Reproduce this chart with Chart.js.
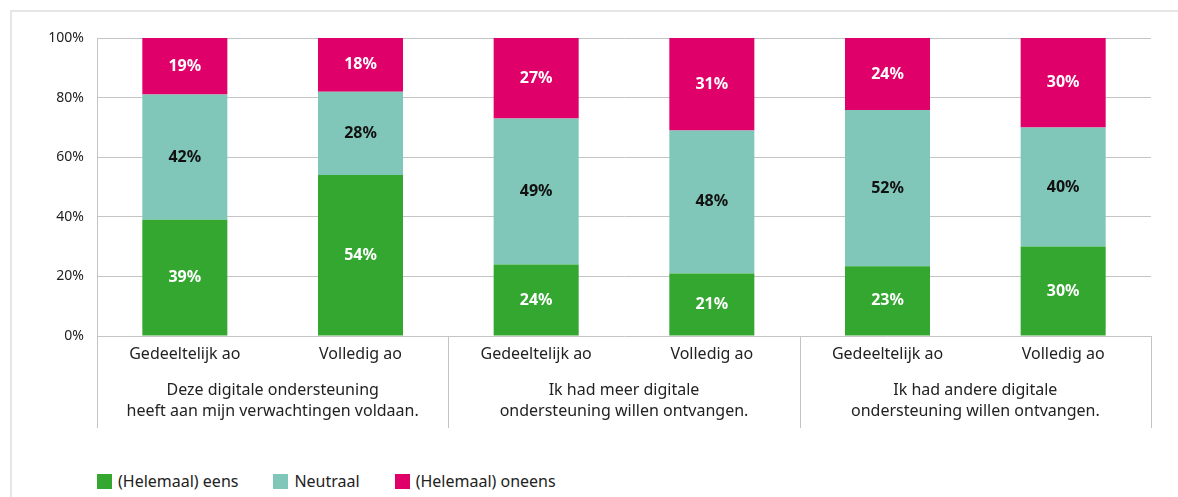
<!DOCTYPE html>
<html>
<head>
<meta charset="utf-8">
<script src="https://cdn.jsdelivr.net/npm/chart.js@4"></script>
<style>
  body { margin: 0; background: #fff; font-family: 'Noto Sans', sans-serif; }
  .frame { position: absolute; left: 10px; top: 10px; width: 1168px; height: 487px;
           border-top: 2px solid #e6e6e6; border-left: 2px solid #e6e6e6; }
  .wrap { position: absolute; left: 0; top: 0; width: 1178px; height: 440px; }
  #legend { position: absolute; left: 97px; top: 472px; display: flex; align-items: center;
            font-size: 16px; color: #222; line-height: 18px; }
  #legend .item { display: flex; align-items: center; margin-right: 35px; }
  #legend .box { width: 15px; height: 15px; margin-right: 6px; }
</style>
</head>
<body>
<div class="frame"></div>
<div class="wrap"><canvas id="chart"></canvas></div>
<div id="legend"></div>
<script>
const categories = ['Gedeeltelijk ao', 'Volledig ao', 'Gedeeltelijk ao', 'Volledig ao', 'Gedeeltelijk ao', 'Volledig ao'];
const groups = [
  ['Deze digitale ondersteuning', 'heeft aan mijn verwachtingen voldaan.'],
  ['Ik had meer digitale', 'ondersteuning willen ontvangen.'],
  ['Ik had andere digitale', 'ondersteuning willen ontvangen.']
];
const eens = [39, 54, 24, 21, 23.4, 30];
const neutraal = [42, 28, 49, 48, 52.4, 40];
const oneens = [19, 18, 27, 31, 24.2, 30];
const seriesNames = ['(Helemaal) eens', 'Neutraal', '(Helemaal) oneens'];
const yTicks = [0, 20, 40, 60, 80, 100];

const colours = ['#33a72f', '#80c7b9', '#e0006a'];
const labelColours = ['#ffffff', '#111111', '#ffffff'];
const gridColour = '#c4c4c4';
const textColour = '#222222';
const fontFamily = "'Noto Sans', sans-serif";

// percentages inside each segment
const barLabels = {
  id: 'barLabels',
  afterDatasetsDraw(chart) {
    const ctx = chart.ctx;
    ctx.save();
    ctx.font = 'bold 16px ' + fontFamily;
    ctx.textAlign = 'center';
    ctx.textBaseline = 'middle';
    chart.data.datasets.forEach((ds, i) => {
      const meta = chart.getDatasetMeta(i);
      ctx.fillStyle = labelColours[i];
      meta.data.forEach((bar, j) => {
        const y = (bar.y + bar.base) / 2;
        ctx.fillText(Math.round(ds.data[j]) + '%', bar.x, y);
      });
    });
    ctx.restore();
  }
};

// second level of the x axis: group dividers and group titles
const groupAxis = {
  id: 'groupAxis',
  afterDraw(chart) {
    const ctx = chart.ctx;
    const area = chart.chartArea;
    const x = chart.scales.x;
    const bottom = area.bottom + 92;
    const edges = [area.left];
    for (let g = 1; g < groups.length; g++) {
      edges.push((x.getPixelForValue(g * 2 - 1) + x.getPixelForValue(g * 2)) / 2);
    }
    edges.push(area.right);

    ctx.save();
    ctx.strokeStyle = gridColour;
    ctx.lineWidth = 1;
    edges.forEach(e => {
      ctx.beginPath();
      ctx.moveTo(Math.round(e) + 0.5, area.bottom);
      ctx.lineTo(Math.round(e) + 0.5, bottom);
      ctx.stroke();
    });

    ctx.fillStyle = textColour;
    ctx.font = '16px ' + fontFamily;
    ctx.textAlign = 'center';
    ctx.textBaseline = 'middle';
    groups.forEach((lines, g) => {
      const cx = (x.getPixelForValue(g * 2) + x.getPixelForValue(g * 2 + 1)) / 2;
      lines.forEach((line, k) => {
        ctx.fillText(line, cx, area.bottom + 54 + k * 21);
      });
    });
    ctx.restore();
  }
};

const datasets = [eens, neutraal, oneens].map((values, i) => ({
  label: seriesNames[i],
  data: values,
  backgroundColor: colours[i],
  borderWidth: 0,
  barPercentage: 0.484,
  categoryPercentage: 1
}));

new Chart(document.getElementById('chart'), {
  type: 'bar',
  data: { labels: categories, datasets: datasets },
  options: {
    responsive: true,
    maintainAspectRatio: false,
    animation: false,
    layout: { padding: { top: 38, right: 27, left: 0, bottom: 0 } },
    plugins: {
      legend: { display: false },
      tooltip: { enabled: false }
    },
    scales: {
      x: {
        stacked: true,
        grid: { display: false },
        border: { display: false },
        ticks: { color: textColour, font: { family: fontFamily, size: 16 }, padding: 1, maxRotation: 0 },
        afterFit(scale) { scale.height = 104; }
      },
      y: {
        stacked: true,
        min: 0,
        max: 100,
        afterBuildTicks(scale) { scale.ticks = yTicks.map(v => ({ value: v })); },
        ticks: {
          color: textColour,
          font: { family: fontFamily, size: 14 },
          padding: 13,
          callback: v => v + '%'
        },
        grid: { color: gridColour, drawTicks: false },
        border: { color: gridColour },
        afterFit(scale) { scale.width = 97; }
      }
    }
  },
  plugins: [barLabels, groupAxis]
});

// legend
const legend = document.getElementById('legend');
seriesNames.forEach((name, i) => {
  const item = document.createElement('div');
  item.className = 'item';
  const box = document.createElement('span');
  box.className = 'box';
  box.style.background = colours[i];
  const text = document.createElement('span');
  text.textContent = name;
  item.appendChild(box);
  item.appendChild(text);
  legend.appendChild(item);
});
</script>
</body>
</html>
